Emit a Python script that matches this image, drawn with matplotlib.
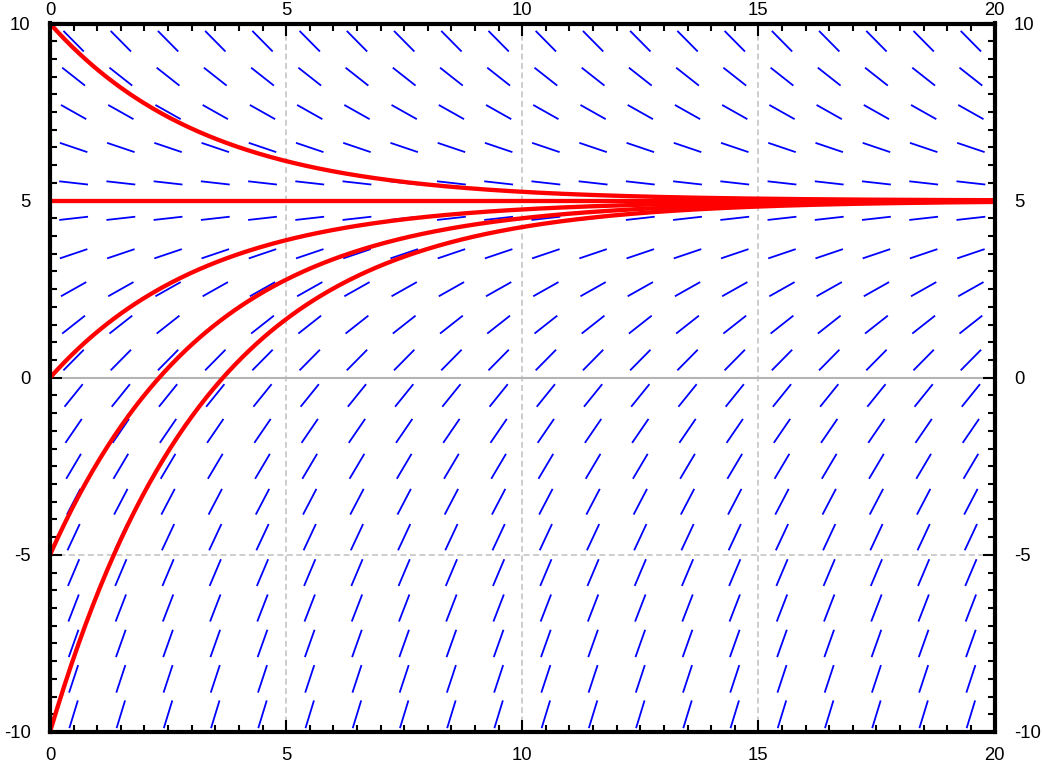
import numpy as np
import matplotlib
matplotlib.use("Agg")
import matplotlib.pyplot as plt
from matplotlib.ticker import MultipleLocator

plt.rcParams['font.family'] = ['Liberation Sans', 'DejaVu Sans']
plt.rcParams['axes.unicode_minus'] = False

# model dy/dt = rate * (y_eq - y)
rate = 0.3
y_eq = 5.0
start_values = [10, 5, 0, -5, -10]

# slope field sample points
t_points = np.arange(0.5, 20, 1.0)
y_points = np.arange(-9.5, 10, 1.0)

x_ticks = [0, 5, 10, 15, 20]
y_ticks = [-10, -5, 0, 5, 10]

fs = 13.3

fig = plt.figure(figsize=(10.42, 7.62), dpi=100)
ax = fig.add_axes([50 / 1042, 1 - 732 / 762, 944.5 / 1042, 708.5 / 762])
ax.set_xlim(0, 20)
ax.set_ylim(-10, 10)

# dashed grid + zero line
for xv in [5, 10, 15]:
    ax.axvline(xv, color='#c0c0c0', lw=1.1, ls=(0, (3.9, 2.3)), zorder=1)
for yv in [-5, 5]:
    ax.axhline(yv, color='#c0c0c0', lw=1.1, ls=(0, (3.9, 2.3)), zorder=1)
ax.axhline(0, color='#b4b4b4', lw=1.5, zorder=1)

# slope segments, constant length on screen
T, Y = np.meshgrid(t_points, y_points)
S = rate * (y_eq - Y)
p0 = ax.transData.transform((0, 0))
p1 = ax.transData.transform((1, 1))
sx, sy = p1 - p0
ang = np.arctan2(S * sy, sx)
seg = 29.0
ax.quiver(T, Y, seg * np.cos(ang), seg * np.sin(ang), angles='uv',
          scale_units='dots', scale=1, units='dots', width=1.8,
          headwidth=0, headlength=0, headaxislength=0, pivot='mid',
          color='#0000ff', zorder=2)

# solution curves
t = np.linspace(0, 20, 400)
for y0 in start_values:
    ax.plot(t, y_eq + (y0 - y_eq) * np.exp(-rate * t), color='#ff0000',
            lw=3.1, zorder=3, solid_capstyle='butt')

for s in ax.spines.values():
    s.set_linewidth(3.0)
    s.set_zorder(5)

ax.set_xticks(x_ticks)
ax.set_yticks(y_ticks)
ax.xaxis.set_minor_locator(MultipleLocator(0.5))
ax.yaxis.set_minor_locator(MultipleLocator(0.5))
ax.tick_params(which='both', direction='in', top=False, bottom=True, left=True,
               right=True, labeltop=False, labelright=True, width=1.5,
               labelsize=fs, colors='black')
ax.tick_params(which='major', length=8.8)
ax.tick_params(which='minor', length=5)
ax.tick_params(axis='x', which='major', pad=10.5)
ax.tick_params(axis='y', which='major', pad=14)

# top axis carries its own labels, closer to the frame
ax_top = ax.twiny()
ax_top.set_xlim(0, 20)
ax_top.set_xticks(x_ticks)
ax_top.xaxis.set_minor_locator(MultipleLocator(0.5))
ax_top.tick_params(which='both', direction='in', width=1.5, labelsize=fs)
ax_top.tick_params(which='major', length=8.8, pad=3.0)
ax_top.tick_params(which='minor', length=5)
for s in ax_top.spines.values():
    s.set_visible(False)

plt.savefig('out.png', dpi=100)
